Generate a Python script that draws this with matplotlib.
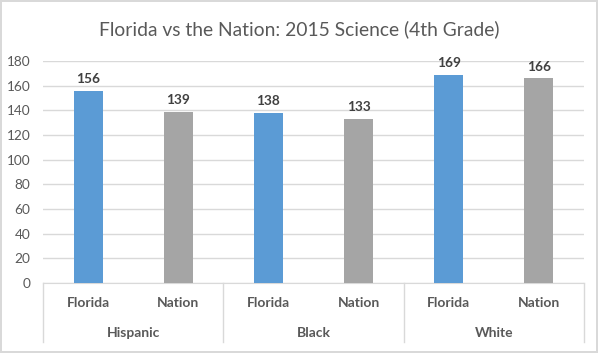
import matplotlib.pyplot as plt

groups = ["Hispanic", "Black", "White"]
series = ["Florida", "Nation"]
florida = [156, 138, 169]
nation = [139, 133, 166]
yticks = [0, 20, 40, 60, 80, 100, 120, 140, 160, 180]

blue = "#5B9BD5"
gray = "#A5A5A5"
grid = "#D9D9D9"
text = "#595959"

plt.rcParams["font.family"] = ["Lato", "DejaVu Sans"]

fig = plt.figure(figsize=(5.98, 3.53), dpi=100)
fig.patch.set_edgecolor(grid)
fig.patch.set_linewidth(1.5)

H = 353.0
ax = fig.add_axes([43 / 598, (H - 283) / H, (584 - 43) / 598, 222 / H])

values = []
colors = []
labels = []
for f, n in zip(florida, nation):
    values += [f, n]
    colors += [blue, gray]
    labels += series
xs = list(range(len(values)))

bars = ax.bar(xs, values, width=0.32, color=colors, zorder=3)
for b, v in zip(bars, values):
    ax.annotate(str(v), (b.get_x() + b.get_width() / 2, v), xytext=(0, 4),
                textcoords="offset points", ha="center", va="bottom",
                fontsize=9.8, fontweight="bold", color="#404040")

ax.set_xlim(-0.5, len(values) - 0.5)
ax.set_ylim(0, 180)
ax.set_yticks(yticks)
ax.tick_params(axis="y", length=0, labelsize=9.8, labelcolor=text, pad=9)
ax.set_xticks([])
ax.yaxis.grid(True, color=grid, linewidth=1, zorder=0)
for s in ["top", "right", "left"]:
    ax.spines[s].set_visible(False)
ax.spines["bottom"].set_color(grid)

# multi-level category axis
low = -59 / 222
for i in range(len(groups) + 1):
    ax.plot([i / 3, i / 3], [0, low], transform=ax.transAxes, color=grid,
            linewidth=1, clip_on=False)
for x, lab in zip(xs, labels):
    ax.text(x, -20 / 222 * 180, lab, ha="center", va="center", fontsize=10,
            fontweight="bold", color=text)
for i, g in enumerate(groups):
    ax.text(2 * i + 0.5, -50 / 222 * 180, g, ha="center", va="center",
            fontsize=10, fontweight="bold", color=text)

fig.text(0.5, (H - 29) / H, "Florida vs the Nation: 2015 Science (4th Grade)",
         ha="center", va="center", fontsize=13.9, color=text)

fig.savefig("out.png", dpi=100, edgecolor=fig.get_edgecolor())
